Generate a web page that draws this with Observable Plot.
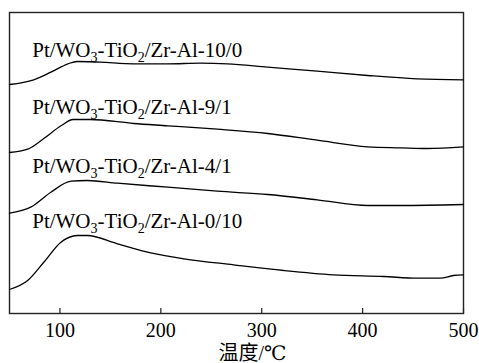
<!DOCTYPE html>
<html>
<head>
<meta charset="utf-8">
<script src="https://cdn.jsdelivr.net/npm/d3@7"></script>
<script src="https://cdn.jsdelivr.net/npm/@observablehq/plot@0.6"></script>
<style>
  html, body { margin: 0; padding: 0; background: white; }
  svg text, svg tspan { font-family: "Liberation Serif", "Times New Roman", "DejaVu Serif", "Noto Sans CJK SC", serif !important; }
</style>
</head>
<body>
<div id="chart"></div>
<script>
// ---- data ----
const names = [
  "Pt/WO3-TiO2/Zr-Al-10/0",
  "Pt/WO3-TiO2/Zr-Al-9/1",
  "Pt/WO3-TiO2/Zr-Al-4/1",
  "Pt/WO3-TiO2/Zr-Al-0/10"
];
const temps1 = [50, 74, 91, 108, 117, 140, 173, 207, 239, 266, 306, 355, 405, 454, 500];
const vals1  = [229, 233.7, 241.3, 249.7, 252, 251.3, 249.7, 249.7, 250.3, 249.7, 246.3, 242.3, 238, 234.7, 233.7];
const temps2 = [50, 68, 84, 101, 113, 130, 173, 207, 256, 306, 355, 405, 438, 464, 500];
const vals2  = [161, 164.3, 175, 187.7, 194, 194, 190, 187.7, 184.3, 180, 173.3, 166.7, 165.7, 165, 166.7];
const temps3 = [50, 71, 91, 111, 127, 157, 207, 256, 306, 355, 405, 438, 500];
const vals3  = [100.3, 106.3, 121.3, 132.3, 133, 130.3, 126.3, 122.3, 119, 113.7, 108, 108, 109];
const temps4 = [50, 68, 84, 101, 117, 127, 157, 190, 223, 272, 322, 371, 421, 454, 477, 490, 500];
const vals4  = [24, 33, 51.3, 71.3, 78, 78, 69.7, 60.7, 54.7, 48.7, 43, 38.7, 37, 35.3, 35.3, 38, 38.7];
const labelTemp = [72.5, 72.5, 72.5, 72.5];
const labelVal  = [257, 200, 141, 86];
const xTicks = [100, 200, 300, 400, 500];
const xTitle = "温度/℃";

// ---- build tables ----
const temps = [temps1, temps2, temps3, temps4];
const vals = [vals1, vals2, vals3, vals4];
const rows = [];
names.forEach((n, i) => temps[i].forEach((t, j) => rows.push({name: n, t, v: vals[i][j]})));
const labels = names.map((n, i) => ({name: n, x: labelTemp[i], y: labelVal[i]}));

const FONT = '"Liberation Serif", "Times New Roman", "DejaVu Serif", "Noto Sans CJK SC", serif';

const svg = Plot.plot({
  width: 479,
  height: 363,
  marginLeft: 9,
  marginRight: 16,
  marginTop: 12,
  marginBottom: 50,
  style: {fontFamily: FONT, fontSize: "20px", background: "white", color: "black"},
  x: {domain: [50, 500]},
  y: {domain: [0, 301], axis: null},
  marks: [
    Plot.frame({stroke: "#222", strokeWidth: 1.4}),
    Plot.ruleX(xTicks, {x: d => d, y1: 0, y2: 5, stroke: "#222", strokeWidth: 1.2}),
    Plot.axisX({ticks: xTicks, tickSize: 0, tickPadding: 9, tickFormat: d => String(d), label: null, fontSize: 20, fontFamily: FONT}),
    Plot.line(rows, {x: "t", y: "v", z: "name", curve: "monotone-x", stroke: "black", strokeWidth: 1.3}),
    Plot.text(labels, {x: "x", y: "y", text: "name", textAnchor: "start", lineAnchor: "bottom", fontSize: 21, fontFamily: FONT, fill: "black"}),
    Plot.text([xTitle], {frameAnchor: "bottom", dy: 46, dx: 16, lineAnchor: "bottom", fontSize: 20, fontFamily: FONT, fill: "black"})
  ]
});

// subscripts for chemical formulas
function addSub(el) {
  const s = el.textContent;
  el.textContent = "";
  const re = /(WO|TiO)(\d)/g;
  let last = 0, m, prevSub = false;
  const ns = "http://www.w3.org/2000/svg";
  function add(str, sub) {
    if (!str) return;
    const ts = document.createElementNS(ns, "tspan");
    ts.textContent = str;
    if (sub) { ts.setAttribute("font-size", "14"); ts.setAttribute("dy", "5"); }
    else if (prevSub) { ts.setAttribute("dy", "-5"); }
    prevSub = sub;
    el.appendChild(ts);
  }
  while ((m = re.exec(s))) {
    add(s.slice(last, m.index + m[1].length), false);
    add(m[2], true);
    last = m.index + m[0].length;
  }
  add(s.slice(last), false);
}
Array.from(svg.querySelectorAll("text")).filter(el => /(WO|TiO)\d/.test(el.textContent)).forEach(addSub);

document.getElementById("chart").appendChild(svg);
</script>
</body>
</html>
